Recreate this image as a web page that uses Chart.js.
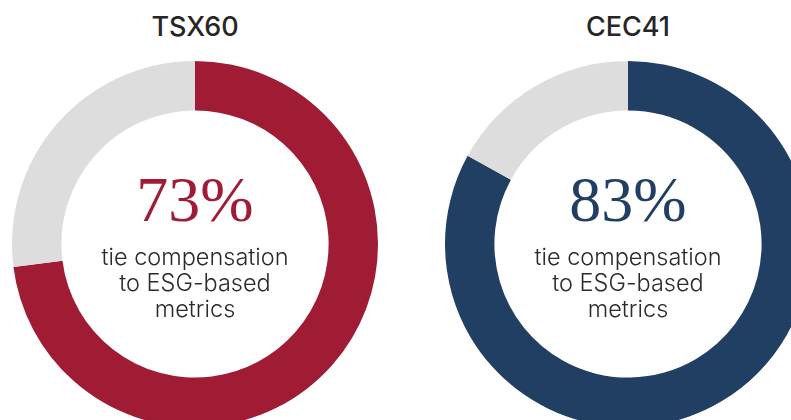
<!DOCTYPE html>
<html>
<head>
<meta charset="utf-8">
<script src="https://cdn.jsdelivr.net/npm/chart.js@4.4.1/dist/chart.umd.min.js"></script>
<style>
  html, body { margin: 0; padding: 0; background: #fff; }
  body { width: 791px; height: 420px; overflow: hidden; position: relative; }
  .panel { position: absolute; top: 0; width: 366px; height: 420px; }
  .panel canvas { position: absolute; left: 0; top: 61px; }
  .title {
    position: absolute; top: 10px; left: 0; width: 366px; text-align: center;
    font-family: Inter, "Noto Sans", sans-serif; font-weight: 500; font-size: 27px; color: #262626;
  }
  .pct {
    position: absolute; top: 165px; left: 0; width: 366px; text-align: center;
    font-family: "Liberation Serif", "DejaVu Serif", serif; font-size: 64px; line-height: 70px;
  }
  .caption {
    position: absolute; top: 244px; left: 0; width: 366px; text-align: center;
    font-family: Inter, "Noto Sans", sans-serif; font-weight: 300; font-size: 23.5px; line-height: 26px; color: #2a2a2a;
  }
</style>
</head>
<body>
<script>
// ── Data ──────────────────────────────────────────────────────
const groups = ['TSX60', 'CEC41'];
const tiedPct = [73, 83];
const otherPct = [27, 17];
const colors = ['#A01C35', '#213F62'];
const caption = ['tie compensation', 'to ESG-based', 'metrics'];

const lefts = [12, 445];

groups.forEach((name, i) => {
  const panel = document.createElement('div');
  panel.className = 'panel';
  panel.style.left = lefts[i] + 'px';
  panel.innerHTML =
    `<div class="title">${name}</div>` +
    `<canvas width="366" height="366"></canvas>` +
    `<div class="pct" style="color:${colors[i]}">${tiedPct[i]}%</div>` +
    `<div class="caption">${caption.join('<br>')}</div>`;
  document.body.appendChild(panel);

  new Chart(panel.querySelector('canvas'), {
    type: 'doughnut',
    data: {
      labels: ['Tied to ESG metrics', 'Other'],
      datasets: [{
        data: [tiedPct[i], otherPct[i]],
        backgroundColor: [colors[i], '#DDDDDD'],
        borderWidth: 0,
        hoverOffset: 0,
        offset: 0
      }]
    },
    options: {
      responsive: false,
      animation: false,
      cutout: '73%',
      layout: { padding: 0 },
      plugins: { legend: { display: false }, tooltip: { enabled: false } }
    }
  });
});
</script>
</body>
</html>
